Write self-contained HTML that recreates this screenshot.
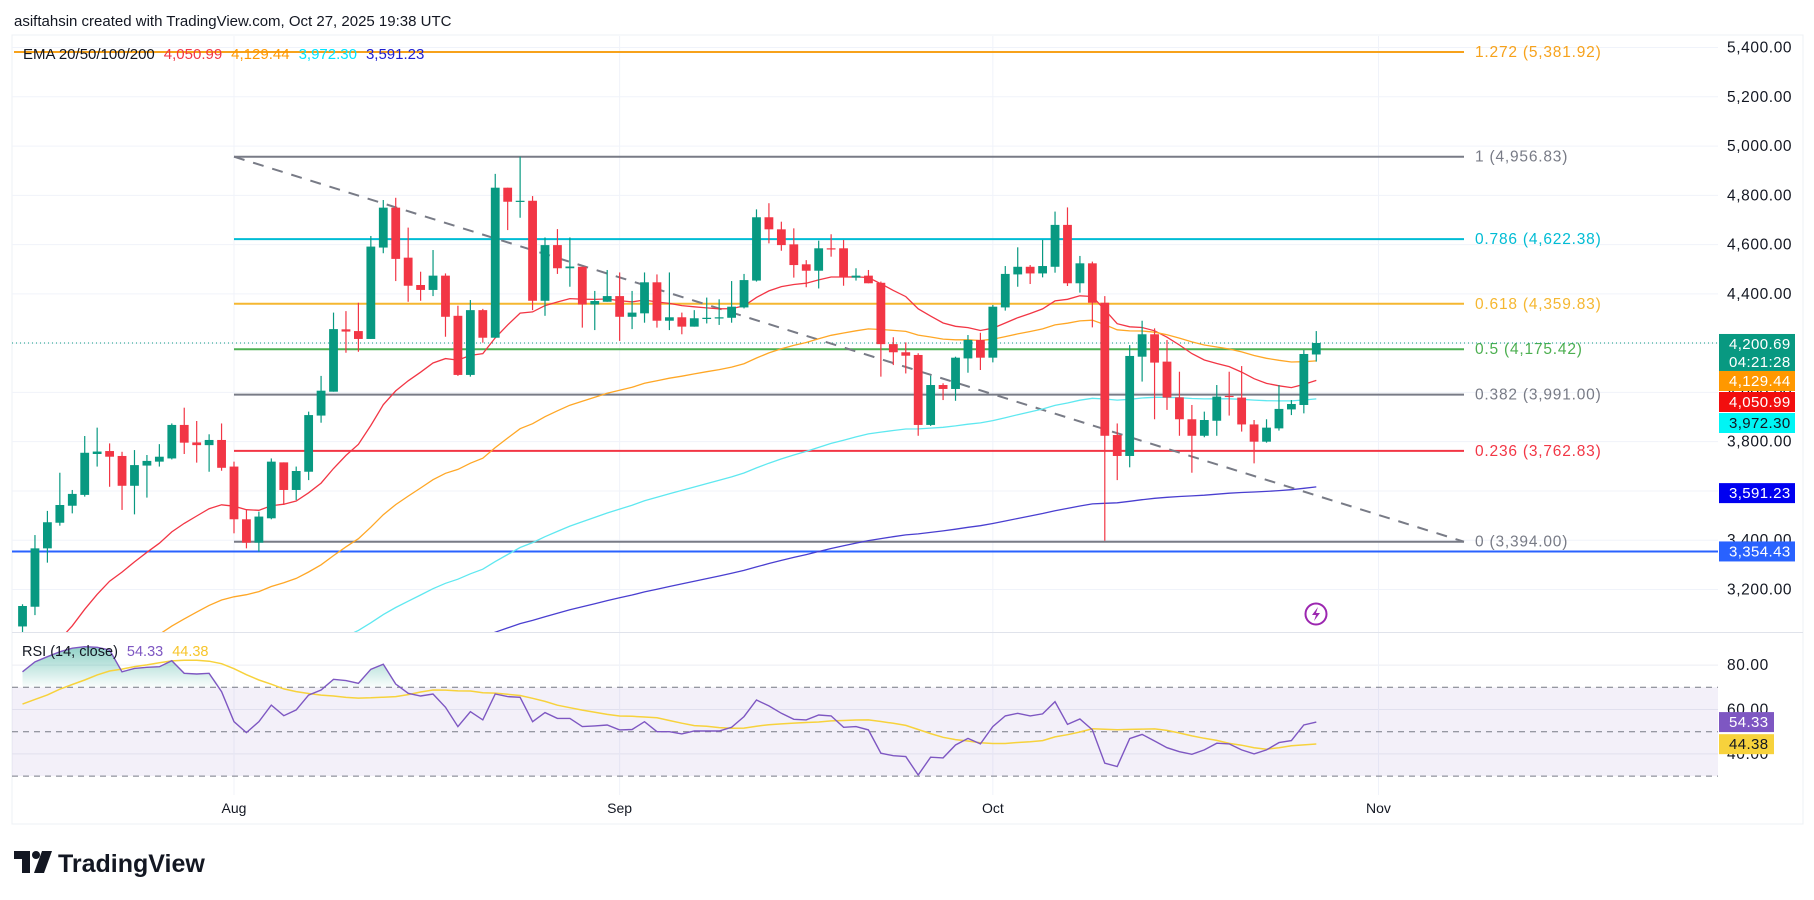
<!DOCTYPE html>
<html><head><meta charset="utf-8"><title>ETH chart</title>
<style>
html,body{margin:0;padding:0;background:#fff;}
svg{display:block;font-family:"Liberation Sans",sans-serif;}
</style></head>
<body>
<svg id="chart" width="1814" height="900" viewBox="0 0 1814 900" xmlns="http://www.w3.org/2000/svg">
  <defs>
    <clipPath id="pricePane"><rect x="12" y="36" width="1706" height="596"/></clipPath>
    <clipPath id="rsiPane"><rect x="12" y="633" width="1706" height="162"/></clipPath>
    <linearGradient id="rsiGreen" x1="0" y1="0" x2="0" y2="1">
      <stop offset="0" stop-color="#089981" stop-opacity="0.45"/>
      <stop offset="1" stop-color="#089981" stop-opacity="0.02"/>
    </linearGradient>
  </defs>
  <text x="14" y="26" font-size="15" fill="#131722">asiftahsin created with TradingView.com, Oct 27, 2025 19:38 UTC</text>
  <rect x="12" y="35" width="1791" height="789" fill="#fff" stroke="#eef0f4"/>
  <g id="grid"></g>
  <g id="rsiBg"></g>
  <g id="fibs"></g>
  <g id="emas" clip-path="url(#pricePane)"></g>
  <g id="candles" clip-path="url(#pricePane)"></g>
  <g id="rsi" clip-path="url(#rsiPane)"></g>
  <g id="axis"></g>
  <g id="tags"></g>
  <line x1="12" y1="632.5" x2="1803" y2="632.5" stroke="#e0e3eb"/>
  <text x="23" y="59" font-size="15"><tspan fill="#131722">EMA 20/50/100/200</tspan><tspan dx="9" fill="#f23645">4,050.99</tspan><tspan dx="9" fill="#ff9800">4,129.44</tspan><tspan dx="9" fill="#00e5ff">3,972.30</tspan><tspan dx="9" fill="#1f1fd0">3,591.23</tspan></text>
  <text x="22" y="656" font-size="14.5"><tspan fill="#131722">RSI (14, close)</tspan><tspan dx="9" fill="#7e57c2">54.33</tspan><tspan dx="9" fill="#f7c52b">44.38</tspan></text>
  <g>
    <circle cx="1316" cy="614" r="10.5" fill="#fff" stroke="#9c27b0" stroke-width="2"/>
    <path d="M1318 607 L1312 615 L1316 615 L1314 621 L1320 613 L1316 613 Z" fill="#9c27b0"/>
  </g>
  <g>
    <path d="M14 851 H30 V873 H22 V859 H14 Z" fill="#131722"/>
    <circle cx="36" cy="855" r="4" fill="#131722"/>
    <path d="M42 851 H52 L44 873 H34 Z" fill="#131722"/>
    <text x="58" y="872" font-size="25" font-weight="bold" fill="#131722">TradingView</text>
  </g>
</svg>
<script>
// ---- chart data (day index 0 = Jul 15, 2025) ----
const opens = [3050,3130,3367,3471,3540,3584,3750,3762,3742,3621,3703,3719,3732,3868,3797,3786,3807,
3699,3485,3390,3489,3716,3604,3678,3906,4003,4256,4249,4217,4588,4750,4547,4436,4416,4474,4311,
4071,4334,4222,4831,4776,4778,4372,4598,4504,4510,4357,4368,4391,4307,4321,4447,4291,4305,4267,4298,
4300,4303,4345,4454,4711,4662,4601,4520,4494,4585,4585,4466,4474,4445,4196,4163,4152,3868,4030,4014,
4138,4213,4141,4345,4479,4510,4483,4510,4680,4443,4524,4364,3827,3742,4145,4236,4125,3980,3891,3824,
3885,3986,3979,3870,3800,3854,3931,3949,4154];
const highs = [3140,3421,3519,3674,3604,3823,3857,3793,3759,3766,3746,3790,3874,3938,3884,3830,3874,
3719,3523,3516,3732,3716,3699,3922,4067,4324,4330,4364,4635,4781,4790,4669,4490,4578,4483,4352,
4375,4339,4887,4831,4957,4797,4629,4663,4629,4510,4412,4497,4487,4412,4487,4479,4487,4324,4334,4385,
4378,4452,4481,4743,4768,4693,4666,4537,4616,4642,4619,4504,4497,4450,4224,4203,4159,4068,4037,4145,
4233,4242,4355,4513,4589,4517,4619,4734,4751,4554,4531,4391,3874,4192,4291,4260,4213,4084,3949,3922,
4030,4084,4107,3888,3891,4030,3969,4172,4249];
const lows = [3000,3096,3309,3459,3509,3577,3699,3617,3523,3505,3573,3699,3728,3750,3715,3678,3682,
3428,3367,3354,3485,3543,3563,3644,3877,4003,4161,4165,4217,4565,4452,4368,4372,4391,4226,4067,
4064,4202,4222,4659,4709,4334,4311,4481,4429,4263,4253,4368,4209,4257,4283,4263,4253,4236,4267,4280,
4274,4283,4341,4450,4605,4575,4466,4427,4422,4551,4433,4454,4443,4064,4111,4077,3824,3864,3969,3966,
4080,4091,4122,4332,4429,4440,4467,4486,4432,4405,4264,3398,3644,3696,4044,3891,3929,3824,3674,3818,
3824,3906,3841,3712,3796,3845,3908,3915,4125];
const closes = [3133,3367,3473,3543,3588,3755,3760,3739,3621,3705,3722,3739,3868,3796,3786,3807,3694,
3485,3390,3496,3719,3604,3681,3908,4007,4257,4247,4217,4592,4750,4542,4433,4416,4474,4307,4071,
4334,4222,4831,4774,4778,4372,4598,4504,4511,4357,4371,4391,4307,4324,4447,4291,4305,4267,4301,4303,
4305,4348,4456,4711,4662,4598,4517,4494,4585,4581,4467,4474,4443,4196,4163,4149,3868,4030,4014,4141,
4213,4141,4348,4481,4510,4483,4513,4680,4443,4524,4364,3824,3742,4148,4236,4121,3979,3891,3824,3888,
3983,3983,3870,3800,3857,3933,3953,4156,4200.69];
const rsiValues = [77,81.5,83.8,86,87.6,88.3,88,86.8,77,78.5,79,79.3,82,76.3,76,76.3,68,
54.5,49.6,54.5,62,57.2,59.8,66.5,68.8,73.6,73,71.8,78.1,80.4,71.5,67.3,66.1,67,61,52.3,59,55.3,67,65.8,65.5,54.5,58.6,56,56,52.3,52.6,53,50.8,51,54.5,50,50,
49,50.3,50.3,50.3,52,56.8,64.3,61.6,58.3,55.6,55.3,57.5,57.1,52,52.3,50.8,40.3,39.2,38.8,30.5,38.5,38.2,44,47,44.5,52.3,57.1,58.3,57.1,58,63.5,53.3,55.7,50.8,35.8,34.3,46.9,48.8,45.8,42.8,41,39.8,41.8,44.8,44.5,41.8,40,41.8,45.1,46,53,54.33];
const rsiPrior = [52,55,50,58,60,56,62,65,63,68,66,70,72];
const emaPeriods = [20,50,100,200];
const emaSeeds = [2800,2650,2500,2580];
const emaLast = [4050.99,4129.44,3972.30,3591.23];
const emaColors = ['#f23645','#ffa726','#5fe8f0','#4a3fd0'];
const priceTicks = [3200,3400,3600,3800,4000,4200,4400,4600,4800,5000,5200,5400];
const rsiTicks = [80,60,40];
const fibRatios = ['1.272','1','0.786','0.618','0.5','0.382','0.236','0'];
const fibPrices = [5381.92,4956.83,4622.38,4359.83,4175.42,3991.00,3762.83,3394.00];
const fibColors = ['#f7a21b','#787b86','#00bcd4','#f5b731','#4caf50','#787b86','#f23645','#787b86'];
const monthLabels = ['Aug','Sep','Oct','Nov'];
const monthDays = [17,48,78,109];
const lastPrice = 4200.69;
const supportPrice = 3354.43;

// ---- scales ----
const NS='http://www.w3.org/2000/svg';
const xOf = i => 234 + (i-17)*12.44;
const yP = p => 156.7 + (4956.83-p)*0.24635;
const yR = v => 687.3 + (70-v)*2.22;
function mk(tag, attrs, parent){const e=document.createElementNS(NS,tag);for(const k in attrs)e.setAttribute(k,attrs[k]);parent.appendChild(e);return e;}
const G = id => document.getElementById(id);
const fmt = v => v.toLocaleString('en-US',{minimumFractionDigits:2,maximumFractionDigits:2});

// grid
const grid=G('grid');
priceTicks.forEach(p=>{const l=mk('line',{x1:12,x2:1718,y1:yP(p),y2:yP(p),stroke:'#f0f3fa'},grid);

});
rsiTicks.forEach(v=>{const l=mk('line',{x1:12,x2:1718,y1:yR(v),y2:yR(v),stroke:'#eceef3'},grid);

});
monthDays.forEach((d,k)=>{const x=xOf(d);
const l=mk('line',{x1:x,x2:x,y1:36,y2:795,stroke:'#f0f3fa'},grid);


const t=mk('text',{x:x,y:813,'font-size':14,'text-anchor':'middle',fill:'#131722'},grid);t.textContent=monthLabels[k];

});

// rsi background band + dashed levels
const rb=G('rsiBg');
const band=mk('rect',{x:12,y:yR(70),width:1706,height:yR(30)-yR(70),fill:'rgba(126,87,194,0.09)'},rb);


[70,50,30].forEach(v=>{const l=mk('line',{x1:12,x2:1718,y1:yR(v),y2:yR(v),stroke:'#787b86','stroke-dasharray':'6 5','stroke-width':1},rb);

});

// fib levels
const fb=G('fibs');
fibPrices.forEach((p,k)=>{const y=yP(p);const x1=k===0?14:234;
const l=mk('line',{x1:x1,x2:1464,y1:y,y2:y,stroke:fibColors[k],'stroke-width':2},fb);


const t=mk('text',{x:1475,y:y+5,'font-size':15.5,'letter-spacing':0.8,fill:fibColors[k]},fb);t.textContent=fibRatios[k]+' ('+fmt(p)+')';

});
const sl=mk('line',{x1:12,x2:1718,y1:yP(supportPrice),y2:yP(supportPrice),stroke:'#2962ff','stroke-width':2},fb);


const pl=mk('line',{x1:12,x2:1718,y1:yP(lastPrice),y2:yP(lastPrice),stroke:'#089981','stroke-dasharray':'1 3'},fb);


const tl=mk('line',{x1:234,y1:yP(fibPrices[1]),x2:1464,y2:yP(fibPrices[7]),stroke:'#787b86','stroke-width':2,'stroke-dasharray':'11 9'},fb);



// EMAs
const eg=G('emas');
emaPeriods.forEach((n,k)=>{const a=2/(n+1);let e=emaSeeds[k];const pts=[];
closes.forEach((c,i)=>{e=a*c+(1-a)*e;pts.push(xOf(i).toFixed(1)+','+yP(e).toFixed(1));});
const pth=mk('polyline',{points:pts.join(' '),fill:'none',stroke:emaColors[k],'stroke-width':1.3},eg);

});

// candles
const cg=G('candles');
closes.forEach((c,i)=>{const o=opens[i],h=highs[i],l=lows[i];const up=c>=o;const col=up?'#089981':'#f23645';const x=xOf(i);
const g=mk('g',{},cg);


mk('line',{x1:x,x2:x,y1:yP(h),y2:yP(l),stroke:col,'stroke-width':1.2},g);
const top=yP(Math.max(o,c)),bot=yP(Math.min(o,c));
mk('rect',{x:x-4.4,y:top,width:8.8,height:Math.max(1.2,bot-top),fill:col},g);});

// RSI + MA
const rg=G('rsi');
const all=rsiPrior.concat(rsiValues);
const ma=rsiValues.map((v,i)=>{let s=0;for(let j=0;j<14;j++)s+=all[i+rsiPrior.length-j];return s/14;});
let fillPts=[];
rsiValues.forEach((v,i)=>{fillPts.push(xOf(i)+','+yR(Math.max(70,v)));});
for(let i=rsiValues.length-1;i>=0;i--)fillPts.push(xOf(i)+','+yR(70));
const gf=mk('polygon',{points:fillPts.join(' '),fill:'url(#rsiGreen)'},rg);


const mal=mk('polyline',{points:ma.map((v,i)=>xOf(i).toFixed(1)+','+yR(v).toFixed(1)).join(' '),fill:'none',stroke:'#f7d23c','stroke-width':1.5},rg);


const rl=mk('polyline',{points:rsiValues.map((v,i)=>xOf(i).toFixed(1)+','+yR(v).toFixed(1)).join(' '),fill:'none',stroke:'#7e57c2','stroke-width':1.4},rg);



// axis labels
const ax=G('axis');
priceTicks.forEach(p=>{const t=mk('text',{x:1727,y:yP(p)+5,'font-size':15.5,'letter-spacing':0.6,fill:'#131722'},ax);t.textContent=fmt(p);

});
rsiTicks.forEach(v=>{const t=mk('text',{x:1727,y:yR(v)+5,'font-size':15.5,'letter-spacing':0.6,fill:'#131722'},ax);t.textContent=fmt(v);

});

// price tags
const tg=G('tags');
function tag(yTop,h,w,bg,fg,lines,name){const g=mk('g',{},tg);


mk('rect',{x:1719,y:yTop,width:w,height:h,fill:bg},g);
lines.forEach((s,k)=>{const t=mk('text',{x:1729,y:yTop+15+k*18,'font-size':15,'letter-spacing':0.4,fill:fg},g);t.textContent=s;});}
tag(yP(lastPrice)-9,37,76,'#089981','#fff',[fmt(lastPrice),'04:21:28'],'last-price-tag');
tag(371,20,76,'#ff9800','#fff',[fmt(emaLast[1])],'ema50-tag');
tag(392,20,76,'#f20e0e','#fff',[fmt(emaLast[0])],'ema20-tag');
tag(413,20,76,'#00f5f5','#131722',[fmt(emaLast[2])],'ema100-tag');
tag(yP(emaLast[3])-10,20,76,'#0000f0','#fff',[fmt(emaLast[3])],'ema200-tag');
tag(yP(supportPrice)-10,20,76,'#2962ff','#fff',[fmt(supportPrice)],'support-tag');
tag(yR(54.33)-10,20,55,'#7e57c2','#fff',['54.33'],'rsi-tag');
tag(yR(44.38)-10,20,55,'#f7d23c','#131722',['44.38'],'rsi-ma-tag');
</script>
</body></html>
